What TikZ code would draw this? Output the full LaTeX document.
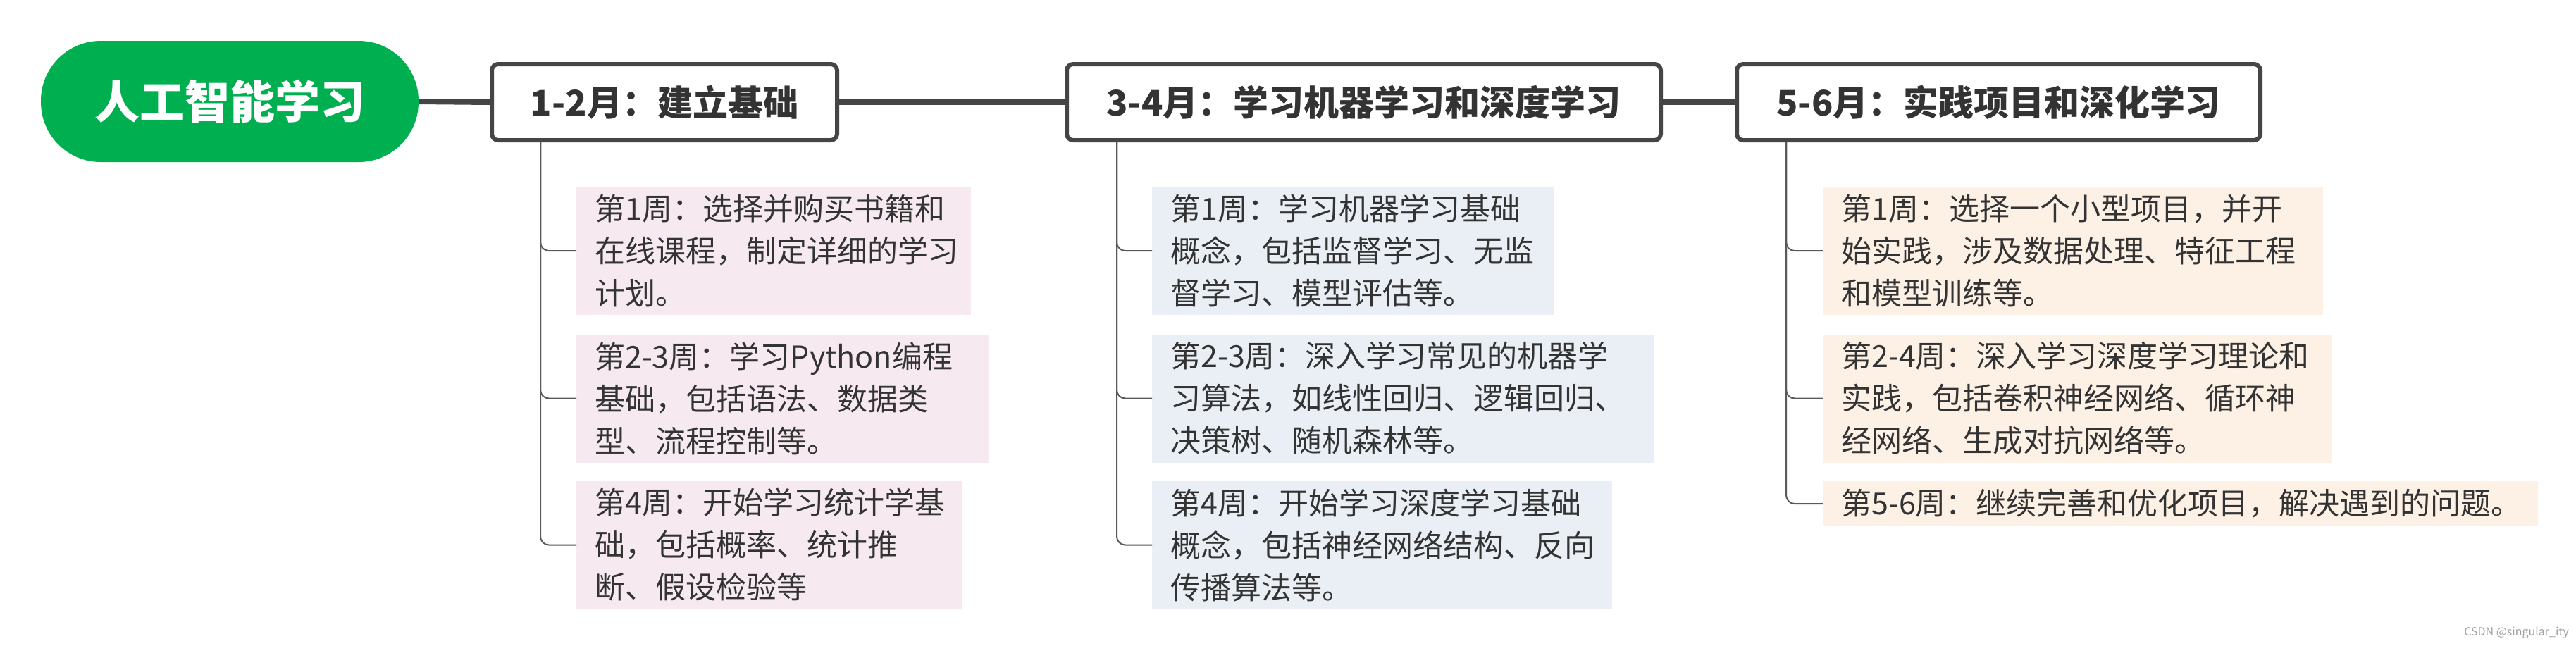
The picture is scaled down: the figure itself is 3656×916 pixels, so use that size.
\documentclass[tikz,border=0pt]{standalone}
\usepackage{fontspec}
\setmainfont{Noto Sans CJK SC}
\definecolor{rootgreen}{HTML}{00B050}
\definecolor{lineg}{HTML}{454545}
\definecolor{textg}{HTML}{333333}
\definecolor{branchg}{HTML}{5A5A5A}
\definecolor{pinkf}{HTML}{F6EAF0}
\definecolor{bluef}{HTML}{E9EFF5}
\definecolor{peachf}{HTML}{FDF0E5}
\definecolor{wmgray}{HTML}{A0A0A0}
\begin{document}
\begin{tikzpicture}[x=1pt,y=-1pt,
  rootbox/.style={fill=rootgreen, rounded corners=85pt, minimum width=536pt, minimum height=172pt, inner sep=0pt, text=white, font=\fontsize{64}{70}\selectfont\bfseries},
  headbox/.style={draw=lineg, line width=6pt, fill=white, rounded corners=9pt, minimum height=108pt, inner sep=0pt, text=textg, font=\fontsize{50}{56}\selectfont\bfseries},
  leaf/.style={anchor=west, inner xsep=26pt, inner ysep=0pt, minimum height=182pt, align=left, text=textg, font=\fontsize{43}{60}\selectfont},
  trunk/.style={draw=lineg, line width=8pt},
  branch/.style={draw=branchg, line width=2pt, rounded corners=12pt},
]
\fill[white] (0,0) rectangle (3656,916);
\useasboundingbox (0,0) rectangle (3656,916);

% root and month headers
\node[rootbox] (root) at (326,144) {人工智能学习};
\node[headbox, minimum width=490pt] (h1) at (943,145) {1-2月：建立基础};
\node[headbox, minimum width=843pt] (h2) at (1935.5,145) {3-4月：学习机器学习和深度学习};
\node[headbox, minimum width=743pt] (h3) at (2836.5,145) {5-6月：实践项目和深化学习};

\draw[trunk] (root.east) -- (h1.west);
\draw[trunk] (h1.east) -- (h2.west);
\draw[trunk] (h2.east) -- (h3.west);

% column 1
\node[leaf, fill=pinkf, text width=508pt] (l11) at (818,356) {第1周：选择并购买书籍和\\在线课程，制定详细的学习\\计划。};
\node[leaf, fill=pinkf, text width=533pt] (l12) at (818,565.5) {第2-3周：学习Python编程\\基础，包括语法、数据类\\型、流程控制等。};
\node[leaf, fill=pinkf, text width=496pt] (l13) at (818,773.5) {第4周：开始学习统计学基\\础，包括概率、统计推\\断、假设检验等};

% column 2
\node[leaf, fill=bluef, text width=518pt] (l21) at (1635,356) {第1周：学习机器学习基础\\概念，包括监督学习、无监\\督学习、模型评估等。};
\node[leaf, fill=bluef, text width=660pt] (l22) at (1635,565.5) {第2-3周：深入学习常见的机器学\\习算法，如线性回归、逻辑回归、\\决策树、随机森林等。};
\node[leaf, fill=bluef, text width=601pt] (l23) at (1635,773.5) {第4周：开始学习深度学习基础\\概念，包括神经网络结构、反向\\传播算法等。};

% column 3
\node[leaf, fill=peachf, text width=658pt] (l31) at (2587,356) {第1周：选择一个小型项目，并开\\始实践，涉及数据处理、特征工程\\和模型训练等。};
\node[leaf, fill=peachf, text width=670pt] (l32) at (2587,565.5) {第2-4周：深入学习深度学习理论和\\实践，包括卷积神经网络、循环神\\经网络、生成对抗网络等。};
\node[leaf, fill=peachf, text width=963pt, minimum height=64pt] (l33) at (2587,715) {第5-6周：继续完善和优化项目，解决遇到的问题。};

% branch connectors
\coordinate (t1) at (767,202);
\coordinate (t2) at (1585,202);
\coordinate (t3) at (2535,202);
\draw[branch] (t1) |- (l11.west);
\draw[branch] (t1) |- (l12.west);
\draw[branch] (t1) |- (l13.west);
\draw[branch] (t2) |- (l21.west);
\draw[branch] (t2) |- (l22.west);
\draw[branch] (t2) |- (l23.west);
\draw[branch] (t3) |- (l31.west);
\draw[branch] (t3) |- (l32.west);
\draw[branch] (t3) |- (l33.west);

% watermark
\node[anchor=east, inner sep=0pt, text=wmgray, font=\fontsize{16}{18}\selectfont] (wm) at (3646,898) {CSDN @singular\_ity};
\end{tikzpicture}
\end{document}
